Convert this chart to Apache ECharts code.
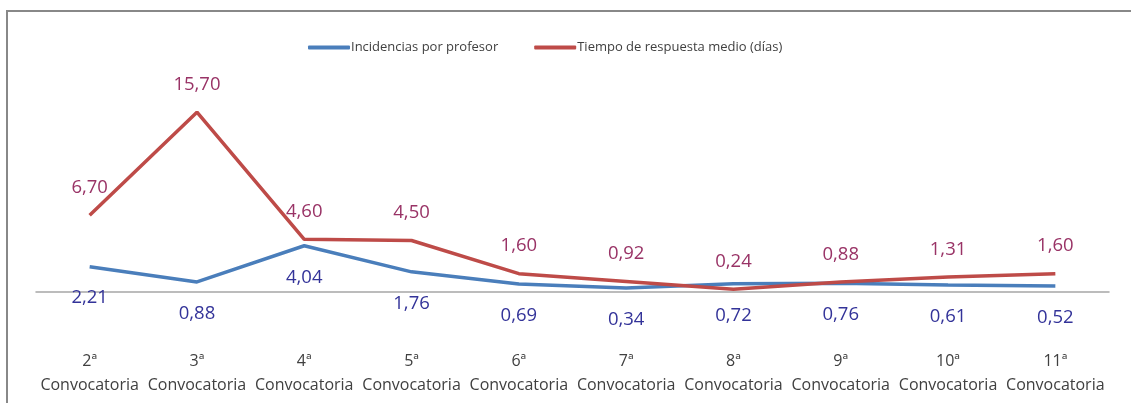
<!DOCTYPE html>
<html>
<head>
<meta charset="utf-8">
<script src="https://cdn.jsdelivr.net/npm/echarts@6/dist/echarts.min.js"></script>
<style>
    html, body { margin: 0; padding: 0; background: #fff; }
    #main { width: 1131px; height: 403px; }
</style>
</head>
<body>
<div id="main"></div>
<script>
    // datos del gráfico
    const convocatorias = ['2ª', '3ª', '4ª', '5ª', '6ª', '7ª', '8ª', '9ª', '10ª', '11ª'];
    const incidencias = [2.21, 0.88, 4.04, 1.76, 0.69, 0.34, 0.72, 0.76, 0.61, 0.52];
    const tiempoRespuesta = [6.70, 15.70, 4.60, 4.50, 1.60, 0.92, 0.24, 0.88, 1.31, 1.60];

    const fmt = p => p.value.toFixed(2).replace('.', ',');

    const myChart = echarts.init(document.getElementById('main'));
    myChart.setOption({
        animation: false,
        textStyle: { fontFamily: 'Open Sans' },
        graphic: [{
            type: 'rect',
            shape: { x: 7, y: 11, width: 1200, height: 500 },
            style: { fill: 'none', stroke: '#888', lineWidth: 2 }
        }],
        legend: {
            left: 303,
            top: 36,
            icon: 'roundRect',
            itemWidth: 42,
            itemHeight: 4,
            itemGap: 36,
            textStyle: { fontSize: 13, color: '#404040', padding: [0, 0, 0, -4] },
            data: ['Incidencias por profesor', 'Tiempo de respuesta medio (días)']
        },
        grid: { left: 36, right: 22, top: 63, bottom: 111 },
        xAxis: {
            type: 'category',
            data: convocatorias.map(c => c + '\nConvocatoria'),
            axisLine: { lineStyle: { color: '#a6a6a6', width: 1.5 } },
            axisTick: { show: false },
            axisLabel: { color: '#404040', fontSize: 16, lineHeight: 24, margin: 57, interval: 0 }
        },
        yAxis: {
            type: 'value',
            min: 0,
            max: 20,
            show: false
        },
        series: [
            {
                name: 'Incidencias por profesor',
                type: 'line',
                data: incidencias,
                symbol: 'circle',
                symbolSize: 0,
                color: '#4a7ebb',
                lineStyle: { width: 3.5, color: '#4a7ebb' },
                label: { show: true, position: 'bottom', distance: 22, fontSize: 18.5, color: '#333399', formatter: fmt }
            },
            {
                name: 'Tiempo de respuesta medio (días)',
                type: 'line',
                data: tiempoRespuesta,
                symbol: 'circle',
                symbolSize: 0,
                color: '#be4b48',
                lineStyle: { width: 3.5, color: '#be4b48' },
                label: { show: true, position: 'top', distance: 18, fontSize: 18.5, color: '#993366', formatter: fmt }
            }
        ]
    });
</script>
</body>
</html>
